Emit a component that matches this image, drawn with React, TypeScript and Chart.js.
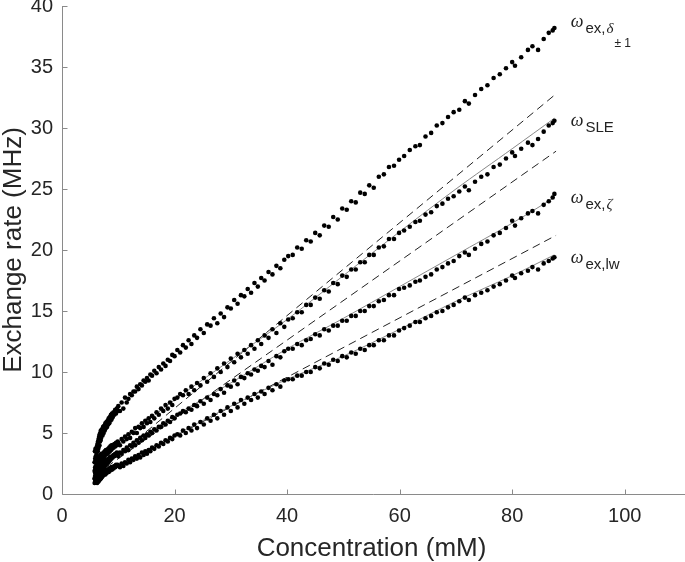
import React, { useEffect, useRef } from "react";
import { Chart, registerables } from "chart.js";

Chart.register(...registerables);

// ---------------- data ----------------
const concentration = [
  // 5.8 - 8.0
  5.8, 5.85, 5.9, 5.95, 6.0, 6.05, 6.1, 6.15, 6.2, 6.25, 6.3, 6.35, 6.4, 6.45, 6.5, 6.55, 6.6, 6.65, 6.7, 6.75,
  6.8, 6.85, 6.9, 6.95, 7.0, 7.1, 7.2, 7.3, 7.4, 7.5, 7.6, 7.7, 7.8, 7.9, 8.0,
  // 8 - 10
  8.1, 8.2, 8.3, 8.4, 8.5, 8.6, 8.7, 8.8, 8.9, 9.0, 9.15, 9.3, 9.45, 9.6, 9.75, 9.9,
  // 10 - 20
  10.0, 10.3, 10.6, 10.9, 11.2, 11.5, 11.8, 12.1, 12.4, 12.7, 13.0, 13.3, 13.6, 13.9, 14.2, 14.5, 14.8, 15.1, 15.4, 15.7,
  16.0, 16.4, 16.8, 17.2, 17.6, 18.0, 18.4, 18.8, 19.2, 19.6, 20.0,
  // 20 - 40
  20.5, 21.0, 21.5, 22.0, 22.5, 23.0, 23.5, 24.0, 24.6, 25.2, 25.8, 26.4, 27.0, 27.6, 28.2, 28.8, 29.4, 30.0, 30.6, 31.2,
  31.8, 32.4, 33.0, 33.6, 34.2, 34.8, 35.4, 36.0, 36.7, 37.4, 38.1, 38.8, 39.5,
  // 40 - 60
  40.2, 41.0, 41.8, 42.6, 43.4, 44.2, 45.0, 45.8, 46.6, 47.4, 48.2, 49.0, 49.8, 50.6, 51.4, 52.2, 53.0, 53.8, 54.6, 55.4,
  56.3, 57.2, 58.1, 59.0, 59.9,
  // 60 - 87.5
  60.8, 61.8, 62.8, 63.6, 64.6, 65.6, 66.6, 67.6, 68.6, 69.6, 70.6, 71.6, 72.3, 73.4, 74.5, 75.6, 76.7, 77.8, 78.9, 80.0,
  80.5, 81.6, 82.8, 83.6, 84.6, 85.6, 86.5, 87.2, 87.5,
];

const rateDelta = [
  2.6, 3.5, 2.9, 3.7, 3.1, 2.7, 3.6, 3.3, 3.9, 3.0, 4.1, 3.5, 4.3, 3.7, 4.5, 3.9, 4.7, 4.0, 4.9, 4.3,
  5.0, 4.4, 5.2, 4.6, 4.9, 5.3, 4.8, 5.5, 5.0, 5.6, 5.2, 5.8, 5.4, 5.9, 5.5,
  6.0, 5.7, 6.2, 5.8, 6.3, 6.0, 6.5, 6.1, 6.6, 6.3, 6.7, 6.5, 6.9, 6.6, 7.0, 6.8,
  7.2, 6.8, 7.5, 7.0, 7.9, 7.5, 7.8, 8.2, 8.1, 8.4, 8.4, 8.8, 8.6, 9.0, 8.9, 9.3, 9.2, 9.5, 9.3, 9.8,
  9.7, 10.1, 9.9, 10.4, 10.2, 10.7, 10.5, 11.0, 10.9, 11.4, 11.3,
  11.8, 11.6, 12.2, 12.0, 12.6, 12.3, 13.0, 12.8, 13.5, 13.2, 13.9, 13.8, 14.4, 14.0, 14.8, 14.5, 15.3, 15.2, 15.9, 15.6,
  16.3, 16.2, 16.8, 16.5, 17.3, 17.0, 17.7, 17.5, 18.2, 18.0, 18.7, 18.5, 19.2,
  19.5, 19.6, 20.2, 20.1, 20.8, 20.7, 21.4, 21.2, 22.0, 21.9, 22.7, 22.5, 23.4, 23.3, 24.0, 23.9, 24.7, 24.6, 25.3, 25.1,
  26.0, 26.2, 26.8, 26.9, 27.4,
  27.7, 28.2, 28.5, 28.6, 29.3, 29.6, 30.2, 30.4, 30.9, 31.3, 31.5, 32.2, 32.0, 32.7, 33.2, 33.5, 34.1, 34.4, 34.9, 35.4,
  35.1, 35.8, 36.4, 36.7, 36.4, 37.3, 37.8, 38.0, 38.2,
];

const rateSLE = [
  1.9, 2.6, 2.2, 1.7, 2.8, 2.1, 2.5, 1.9, 2.9, 2.4, 2.2, 3.0, 2.6, 2.0, 2.8, 2.4, 3.1, 2.6, 2.3, 3.0,
  2.7, 3.2, 2.5, 2.9, 3.3, 2.7, 3.1, 2.9, 3.4, 3.0, 3.5, 3.2, 3.6, 3.3, 3.5,
  3.3, 3.7, 3.4, 3.8, 3.5, 3.9, 3.6, 4.0, 3.7, 4.0, 3.8, 4.1, 3.9, 4.2, 4.0, 4.3,
  4.2, 4.0, 4.5, 4.3, 4.7, 4.5, 4.9, 4.6, 5.1, 5.0, 5.4, 5.0, 5.5, 5.4, 5.8, 5.5, 6.0, 5.8, 6.2, 5.9,
  6.4, 6.2, 6.7, 6.5, 7.0, 6.8, 7.3, 7.0, 7.5, 7.3, 7.8,
  7.9, 8.2, 8.1, 8.5, 8.2, 8.8, 8.5, 9.1, 8.9, 9.5, 9.2, 9.9, 9.6, 10.3, 10.0, 10.7, 10.4, 11.1, 10.8, 11.5,
  11.2, 11.8, 11.5, 12.2, 11.9, 12.6, 12.3, 13.0, 12.8, 13.5, 13.2, 14.0, 13.7,
  14.3, 14.4, 14.9, 14.9, 15.5, 15.5, 16.1, 16.0, 16.7, 16.6, 17.3, 17.2, 17.9, 17.8, 18.4, 18.4, 19.0, 19.0, 19.6, 19.6,
  20.2, 20.3, 20.9, 20.9, 21.4,
  21.6, 21.9, 22.3, 22.4, 22.9, 23.1, 23.6, 23.8, 24.2, 24.4, 24.8, 25.2, 24.9, 25.6, 26.0, 26.2, 26.8, 27.0, 27.5, 28.0,
  27.7, 28.3, 28.8, 28.6, 29.1, 29.7, 30.2, 30.4, 30.6,
];

const rateZeta = [
  1.3, 1.8, 1.0, 2.1, 1.5, 1.9, 1.2, 2.3, 1.6, 2.0, 1.4, 2.2, 1.8, 2.5, 1.5, 2.1, 1.7, 2.4, 1.9, 2.2,
  1.6, 2.5, 2.0, 2.3, 1.8, 2.4, 2.1, 2.6, 2.2, 2.5, 2.3, 2.7, 2.4, 2.8, 2.5,
  2.8, 2.6, 2.9, 2.7, 3.0, 2.8, 3.0, 2.9, 3.1, 3.0, 3.2, 3.1, 3.3, 3.2, 3.4, 3.3,
  3.1, 3.4, 3.3, 3.6, 3.5, 3.8, 3.6, 4.0, 3.9, 4.2, 4.0, 4.4, 4.2, 4.6, 4.4, 4.8, 4.6, 4.9, 4.8, 5.1,
  5.0, 5.3, 5.2, 5.5, 5.5, 5.8, 5.7, 6.0, 5.9, 6.3, 6.2,
  6.5, 6.6, 6.8, 6.7, 7.0, 6.9, 7.3, 7.2, 7.6, 7.4, 7.9, 7.7, 8.2, 8.1, 8.6, 8.3, 8.9, 8.8, 9.3, 9.0,
  9.6, 9.5, 9.9, 9.8, 10.2, 10.1, 10.5, 10.4, 10.9, 10.6, 11.3, 11.2, 11.7,
  11.9, 11.9, 12.3, 12.2, 12.6, 12.7, 13.1, 13.0, 13.5, 13.4, 13.8, 13.8, 14.2, 14.2, 14.6, 14.6, 15.0, 15.0, 15.4, 15.4,
  15.8, 15.9, 16.3, 16.3, 16.8,
  16.9, 17.1, 17.4, 17.5, 17.8, 18.0, 18.4, 18.6, 18.9, 19.1, 19.5, 19.8, 19.6, 20.1, 20.5, 20.7, 21.2, 21.4, 21.8, 22.4,
  22.0, 22.6, 23.0, 23.2, 23.0, 23.7, 24.0, 24.3, 24.6,
];

const rateLw = [
  0.9, 1.2, 1.5, 0.95, 1.3, 1.0, 1.6, 1.1, 1.4, 0.9, 1.7, 1.2, 1.5, 1.0, 1.8, 1.3, 1.1, 1.6, 1.4, 1.9,
  1.2, 1.5, 1.7, 1.3, 1.6, 1.4, 1.8, 1.5, 1.9, 1.6, 1.8, 1.6, 2.0, 1.7, 1.9,
  1.8, 2.0, 1.8, 2.1, 1.9, 2.1, 2.0, 2.2, 2.0, 2.2, 2.1, 2.3, 2.2, 2.4, 2.3, 2.4,
  2.3, 2.2, 2.5, 2.3, 2.6, 2.5, 2.8, 2.6, 2.9, 2.8, 3.1, 2.9, 3.2, 3.0, 3.4, 3.2, 3.5, 3.3, 3.6, 3.5,
  3.8, 3.7, 4.0, 3.9, 4.2, 4.1, 4.4, 4.3, 4.6, 4.5, 4.8,
  4.9, 4.8, 5.2, 5.0, 5.4, 5.2, 5.7, 5.4, 5.9, 5.7, 6.2, 6.0, 6.5, 6.2, 6.8, 6.5, 7.1, 6.8, 7.4, 7.1,
  7.7, 7.4, 7.9, 7.7, 8.2, 7.9, 8.4, 8.2, 8.7, 8.5, 9.0, 8.8, 9.3,
  9.4, 9.4, 9.7, 9.7, 10.0, 10.0, 10.4, 10.3, 10.7, 10.6, 11.0, 10.9, 11.3, 11.2, 11.6, 11.5, 11.9, 11.8, 12.2, 12.2,
  12.6, 12.6, 13.0, 13.0, 13.4,
  13.6, 13.8, 14.1, 14.1, 14.4, 14.6, 14.9, 15.0, 15.3, 15.5, 15.8, 16.1, 15.9, 16.3, 16.5, 16.7, 17.0, 17.2, 17.5, 17.9,
  17.7, 18.1, 18.3, 18.6, 18.4, 18.9, 19.1, 19.3, 19.4,
];

// fitted curves (solid grey)
const fitX = [6, 10, 20, 30, 40, 50, 60, 70, 80, 87.5];
const fitSLE = [2.3, 4.1, 7.7, 11.0, 14.3, 17.9, 21.5, 25.0, 28.3, 30.8];
const fitZeta = [1.7, 3.3, 6.4, 9.1, 11.9, 14.4, 17.0, 19.6, 22.2, 24.3];
const fitLw = [1.1, 2.3, 4.8, 7.2, 9.4, 11.3, 13.5, 15.8, 17.9, 19.6];

// limiting-slope lines (dashed)
const dashX = [6, 87.8];
const dashUpper = [1.7, 32.8];
const dashMiddle = [1.6, 28.1];
const dashLower = [1.3, 21.2];

const xTicks = [0, 20, 40, 60, 80, 100];
const yTicks = [0, 5, 10, 15, 20, 25, 30, 35, 40];

const xTitle = "Concentration (mM)";
const yTitle = "Exchange rate (MHz)";

// series labels: anchor (data units) and text parts
const labelX = 90.4;
const labelY = [38.3, 30.2, 23.85, 18.9];
const labelParts = [
  [["ω", "w"], ["ex,", "s"], ["δ", "g"], ["± 1", "ss"]],
  [["ω", "w"], ["SLE", "s"]],
  [["ω", "w"], ["ex,", "s"], ["ζ", "g"]],
  [["ω", "w"], ["ex,lw", "s"]],
];

// ---------------- styling ----------------
const SANS = '"Liberation Sans", Arial, Helvetica, sans-serif';
const SERIF = '"Liberation Serif", "Times New Roman", serif';
const AXIS_COLOR = "#8a8a8a";
const TEXT_COLOR = "#262626";

const partStyle: Record<string, { font: string; dy: number; gap: number }> = {
  w: { font: `italic 18px ${SERIF}`, dy: 0, gap: 2 },
  s: { font: `15px ${SANS}`, dy: 6, gap: 1 },
  g: { font: `italic 15px ${SERIF}`, dy: 6, gap: 1 },
  ss: { font: `12px ${SANS}`, dy: 20, gap: 0 },
};

const decorPlugin = {
  id: "decor",
  afterDraw(chart: any) {
    const { ctx, chartArea, scales } = chart;
    const xs = scales.x;
    const ys = scales.y;
    ctx.save();
    // axes lines
    ctx.strokeStyle = AXIS_COLOR;
    ctx.lineWidth = 1;
    const x0 = Math.round(chartArea.left) + 0.5;
    const y0 = Math.round(chartArea.bottom) + 0.5;
    ctx.beginPath();
    ctx.moveTo(x0, Math.round(chartArea.top));
    ctx.lineTo(x0, y0);
    ctx.lineTo(chart.width, y0);
    ctx.stroke();
    // inward ticks
    ctx.beginPath();
    yTicks.forEach((v) => {
      const py = Math.round(ys.getPixelForValue(v)) + 0.5;
      ctx.moveTo(x0, py);
      ctx.lineTo(x0 + 5, py);
    });
    xTicks.forEach((v) => {
      const px = Math.round(xs.getPixelForValue(v)) + 0.5;
      ctx.moveTo(px, y0);
      ctx.lineTo(px, y0 - 5);
    });
    ctx.stroke();

    // axis titles
    ctx.fillStyle = TEXT_COLOR;
    ctx.font = `26px ${SANS}`;
    ctx.textAlign = "center";
    ctx.textBaseline = "alphabetic";
    ctx.fillText(xTitle, (chartArea.left + chartArea.right) / 2, 556);
    ctx.save();
    ctx.translate(21, (chartArea.top + chartArea.bottom) / 2);
    ctx.rotate(-Math.PI / 2);
    ctx.fillText(yTitle, 0, 0);
    ctx.restore();

    // series labels
    ctx.textAlign = "left";
    ctx.fillStyle = "#222";
    labelParts.forEach((parts, i) => {
      let x = xs.getPixelForValue(labelX);
      const base = ys.getPixelForValue(labelY[i]);
      parts.forEach(([t, k]) => {
        const st = partStyle[k];
        ctx.font = st.font;
        ctx.fillText(t, x, base + st.dy);
        x += ctx.measureText(t).width + st.gap;
      });
    });
    ctx.restore();
  },
};

function pts(xs: number[], ys: number[]) {
  return xs.map((x, i) => ({ x, y: ys[i] }));
}

export default function App() {
  const ref = useRef<HTMLCanvasElement | null>(null);

  useEffect(() => {
    if (!ref.current) return;
    const scatterStyle = {
      showLine: false,
      pointRadius: 2.3,
      pointBorderWidth: 0,
      pointBackgroundColor: "#000",
      pointBorderColor: "#000",
      order: 0,
    };
    const fitStyle = {
      showLine: true,
      pointRadius: 0,
      borderColor: "#7a7a7a",
      borderWidth: 0.9,
      tension: 0.3,
      order: 1,
    };
    const dashStyle = {
      showLine: true,
      pointRadius: 0,
      borderColor: "#222",
      borderWidth: 1,
      borderDash: [8, 5],
      order: 2,
    };
    const chart = new Chart(ref.current, {
      type: "scatter",
      data: {
        datasets: [
          { label: "delta", data: pts(concentration, rateDelta), ...scatterStyle },
          { label: "SLE", data: pts(concentration, rateSLE), ...scatterStyle },
          { label: "zeta", data: pts(concentration, rateZeta), ...scatterStyle },
          { label: "lw", data: pts(concentration, rateLw), ...scatterStyle },
          { label: "fitSLE", data: pts(fitX, fitSLE), ...fitStyle },
          { label: "fitZeta", data: pts(fitX, fitZeta), ...fitStyle },
          { label: "fitLw", data: pts(fitX, fitLw), ...fitStyle },
          { label: "dashU", data: pts(dashX, dashUpper), ...dashStyle },
          { label: "dashM", data: pts(dashX, dashMiddle), ...dashStyle },
          { label: "dashL", data: pts(dashX, dashLower), ...dashStyle },
        ] as any,
      },
      options: {
        responsive: false,
        animation: false,
        devicePixelRatio: 1,
        events: [],
        layout: { padding: { top: 6, right: 2, left: 0, bottom: 0 } },
        plugins: { legend: { display: false }, tooltip: { enabled: false } },
        scales: {
          x: {
            type: "linear",
            min: 0,
            max: 110,
            grid: { display: false, drawTicks: false },
            border: { display: false },
            afterBuildTicks: (s: any) => {
              s.ticks = xTicks.map((v) => ({ value: v }));
            },
            afterFit: (s: any) => {
              s.height = 68;
              s.paddingLeft = 0;
              s.paddingRight = 0;
            },
            ticks: {
              padding: 10,
              color: TEXT_COLOR,
              font: { family: SANS, size: 20 },
              maxRotation: 0,
              autoSkip: false,
            },
          },
          y: {
            type: "linear",
            min: 0,
            max: 40,
            grid: { display: false, drawTicks: false },
            border: { display: false },
            afterBuildTicks: (s: any) => {
              s.ticks = yTicks.map((v) => ({ value: v }));
            },
            afterFit: (s: any) => {
              s.width = 62;
              s.paddingTop = 0;
              s.paddingBottom = 0;
            },
            ticks: {
              padding: 9,
              color: TEXT_COLOR,
              font: { family: SANS, size: 20 },
              autoSkip: false,
            },
          },
        },
      } as any,
      plugins: [decorPlugin],
    });
    return () => chart.destroy();
  }, []);

  return (
    <div style={{ position: "absolute", left: 0, top: 0, width: 685, height: 562, background: "#fff" }}>
      <canvas ref={ref} width={685} height={562} style={{ display: "block" }} />
    </div>
  );
}
